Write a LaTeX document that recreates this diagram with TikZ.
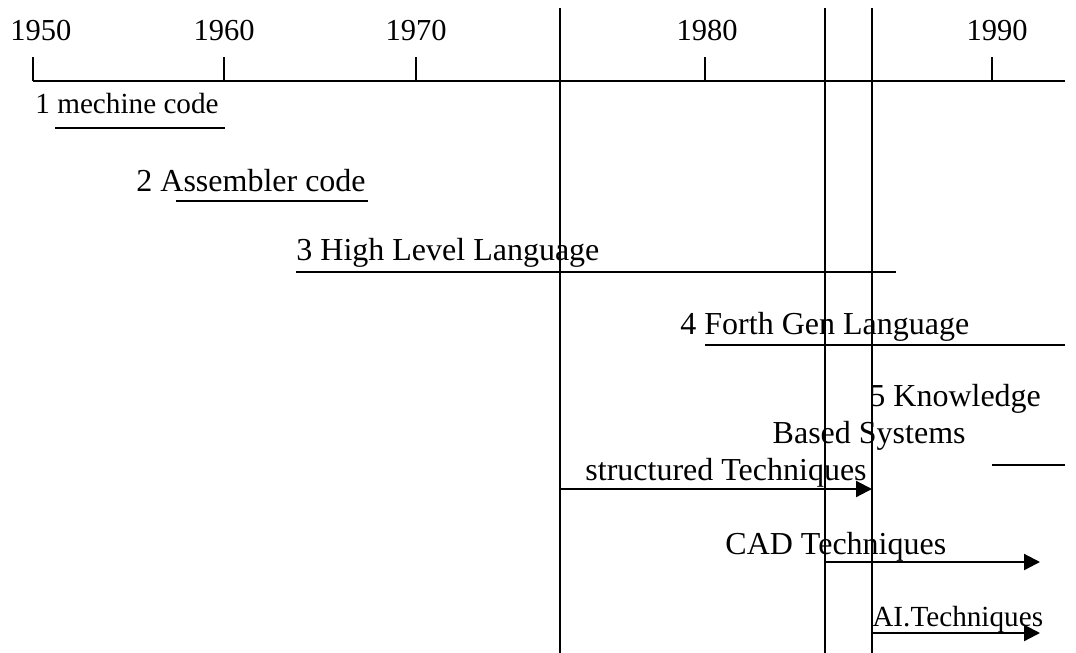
\documentclass[tikz,border=0pt]{standalone}
\usepackage{fontspec}
\setmainfont{Liberation Serif}
\usetikzlibrary{arrows.meta}

\begin{document}
\begin{tikzpicture}[x=0.5pt, y=-0.5pt,
  lbl/.style={inner sep=0pt, anchor=base west, font=\fontsize{16}{18}\selectfont},
  lblsmall/.style={lbl, font=\fontsize{14.6}{17}\selectfont},
  yr/.style={inner sep=0pt, anchor=base, font=\fontsize{15.25}{18}\selectfont},
  bar/.style={line width=1.1pt},
  arr/.style={-{Triangle[length=8pt, width=8pt]}, line width=1.1pt},
]
  \useasboundingbox (0,0) rectangle (1076,653);

  % time axis with decades
  \coordinate (ax0) at (33,81);
  \coordinate (ax1) at (1065,81);
  \draw[bar] (ax0) -- (ax1);
  \foreach \x/\lx/\yr in {33/41/1950, 224/224/1960, 416/416/1970, 705/707/1980, 992/997/1990} {
    \coordinate (t\yr) at (\x,81);
    \coordinate (t\yr top) at (\x,57);
    \draw[bar] (t\yr) -- (t\yr top);
    \node[yr] (y\yr) at (\lx,40) {\yr};
  }

  % milestone lines
  \foreach \x [count=\i] in {560,825,872} {
    \coordinate (v\i top) at (\x,8);
    \coordinate (v\i bot) at (\x,653);
    \draw[bar] (v\i top) -- (v\i bot);
  }

  % generations
  \node[lblsmall] (gen1) at (35,113) {1 mechine code};
  \node[lbl] (gen2) at (136,191) {2 Assembler code};
  \node[lbl] (gen3) at (296,260) {3 High Level Language};
  \node[lbl] (gen4) at (680,334) {4 Forth Gen Language};
  \node[lbl] (gen5) at (869,406) {5 Knowledge};
  \node[lbl, anchor=base east] (gen5b) at (966,443) {Based Systems};

  \coordinate (g1a) at (55,128);   \coordinate (g1b) at (225,128);
  \coordinate (g2a) at (176,201);  \coordinate (g2b) at (368,201);
  \coordinate (g3a) at (296,272);  \coordinate (g3b) at (896,272);
  \coordinate (g4a) at (705,345);  \coordinate (g4b) at (1065,345);
  \coordinate (g5a) at (992,465);  \coordinate (g5b) at (1065,465);
  \foreach \g in {1,...,5}
    \draw[bar] (g\g a) -- (g\g b);

  % techniques
  \node[lbl] (tstruct) at (585,480) {structured Techniques};
  \node[lbl] (tcad) at (725,554) {CAD Techniques};
  \node[lblsmall] (tai) at (872,626) {AI.Techniques};

  \coordinate (s0) at (560,489);  \coordinate (s1) at (872,489);
  \coordinate (c0) at (825,562);  \coordinate (c1) at (1040,562);
  \coordinate (a0) at (872,633);  \coordinate (a1) at (1040,633);
  \draw[arr] (s0) -- (s1);
  \draw[arr] (c0) -- (c1);
  \draw[arr] (a0) -- (a1);
\end{tikzpicture}
\end{document}
